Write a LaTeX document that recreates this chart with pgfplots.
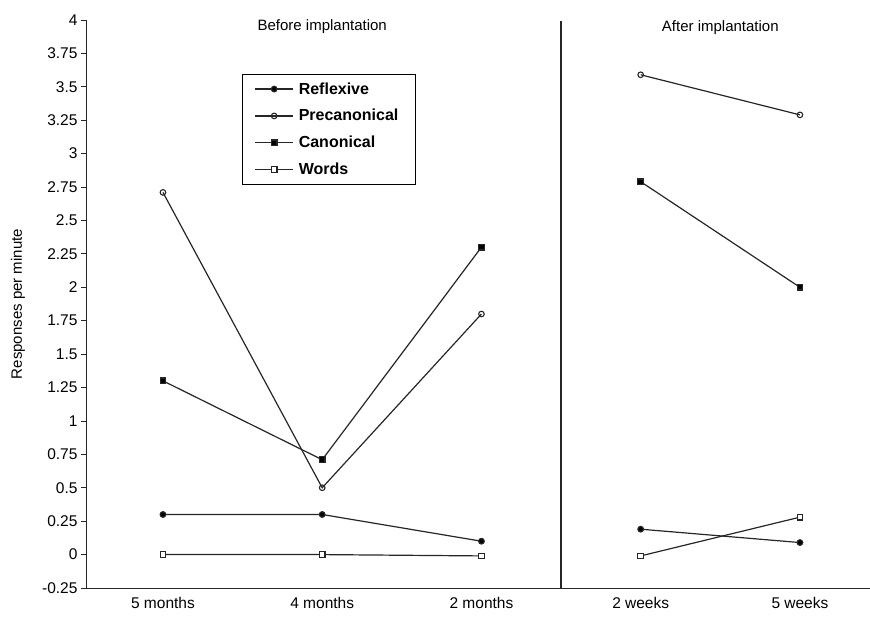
\documentclass[border=0pt]{standalone}
\usepackage{fontspec}
\setmainfont{Liberation Sans}
\usepackage{pgfplots}
\pgfplotsset{compat=1.18}
\begin{document}
\begin{tikzpicture}
\begin{axis}[
  width=783pt, height=568pt, scale only axis,
  xmin=-0.477, xmax=4.44, ymin=-0.25, ymax=4,
  axis lines=left, axis line style={-, black!85, line width=1pt},
  xtick={0,1,2,3,4},
  xticklabels={5 months,4 months,2 months,2 weeks,5 weeks},
  major x tick style={draw=none},
  ytick={-0.25,0,0.25,0.5,0.75,1,1.25,1.5,1.75,2,2.25,2.5,2.75,3,3.25,3.5,3.75,4},
  yticklabels={-0.25,0,0.25,0.5,0.75,1,1.25,1.5,1.75,2,2.25,2.5,2.75,3,3.25,3.5,3.75,4},
  tick align=outside, major tick length=6pt,
  major y tick style={black!85, line width=0.8pt},
  tick label style={font=\fontsize{15.5}{17}\selectfont},
  ylabel={Responses per minute},
  ylabel style={at={(axis description cs:0,0.5)}, yshift=69pt, anchor=center, font=\fontsize{15}{17}\selectfont},
  unbounded coords=jump,
  every axis plot/.append style={black!85, line width=1.2pt},
  legend style={at={(axis description cs:0.198,0.905)}, anchor=north west,
    draw=black, line width=1.1pt, font=\bfseries\fontsize{16}{18}\selectfont,
    row sep=9.8pt, inner xsep=12pt, inner ysep=6pt,
    nodes={inner xsep=5pt}},
  legend cell align=left,
  legend image code/.code={\draw[mark repeat=2,mark phase=2,#1] plot coordinates {(0pt,0pt)(19pt,0pt)(38pt,0pt)};},
]
\addplot[mark=*, mark size=2.8pt, mark options={fill=black, solid}]
  coordinates {(0,0.30)(1,0.30)(2,0.10)(2.5,nan)(3,0.19)(4,0.09)};
\addlegendentry{Reflexive}
\addplot[mark=o, mark size=2.8pt, mark options={fill=white, line width=1.1pt}]
  coordinates {(0,2.71)(1,0.50)(2,1.80)(2.5,nan)(3,3.59)(4,3.29)};
\addlegendentry{Precanonical}
\addplot[mark=square*, mark size=2.8pt, mark options={fill=black}]
  coordinates {(0,1.30)(1,0.71)(2,2.30)(2.5,nan)(3,2.79)(4,2.00)};
\addlegendentry{Canonical}
\addplot[mark=square*, mark size=2.8pt, mark options={fill=white, line width=1.1pt}]
  coordinates {(0,0.00)(1,0.00)(2,-0.01)(2.5,nan)(3,-0.01)(4,0.28)};
\addlegendentry{Words}
\draw[black!85, line width=1.2pt] (axis cs:2.5,-0.25) -- (axis cs:2.5,3.99);
\node[font=\fontsize{15}{17}\selectfont] at (axis cs:1,3.95) {Before implantation};
\node[font=\fontsize{15}{17}\selectfont] at (axis cs:3.5,3.94) {After implantation};
\coordinate (bl) at (rel axis cs:0,0);
\coordinate (tr) at (rel axis cs:1,1);
\end{axis}
\pgfresetboundingbox
\useasboundingbox ([xshift=-87pt,yshift=-31pt]bl) rectangle ([yshift=20pt]tr);
\end{tikzpicture}
\end{document}
